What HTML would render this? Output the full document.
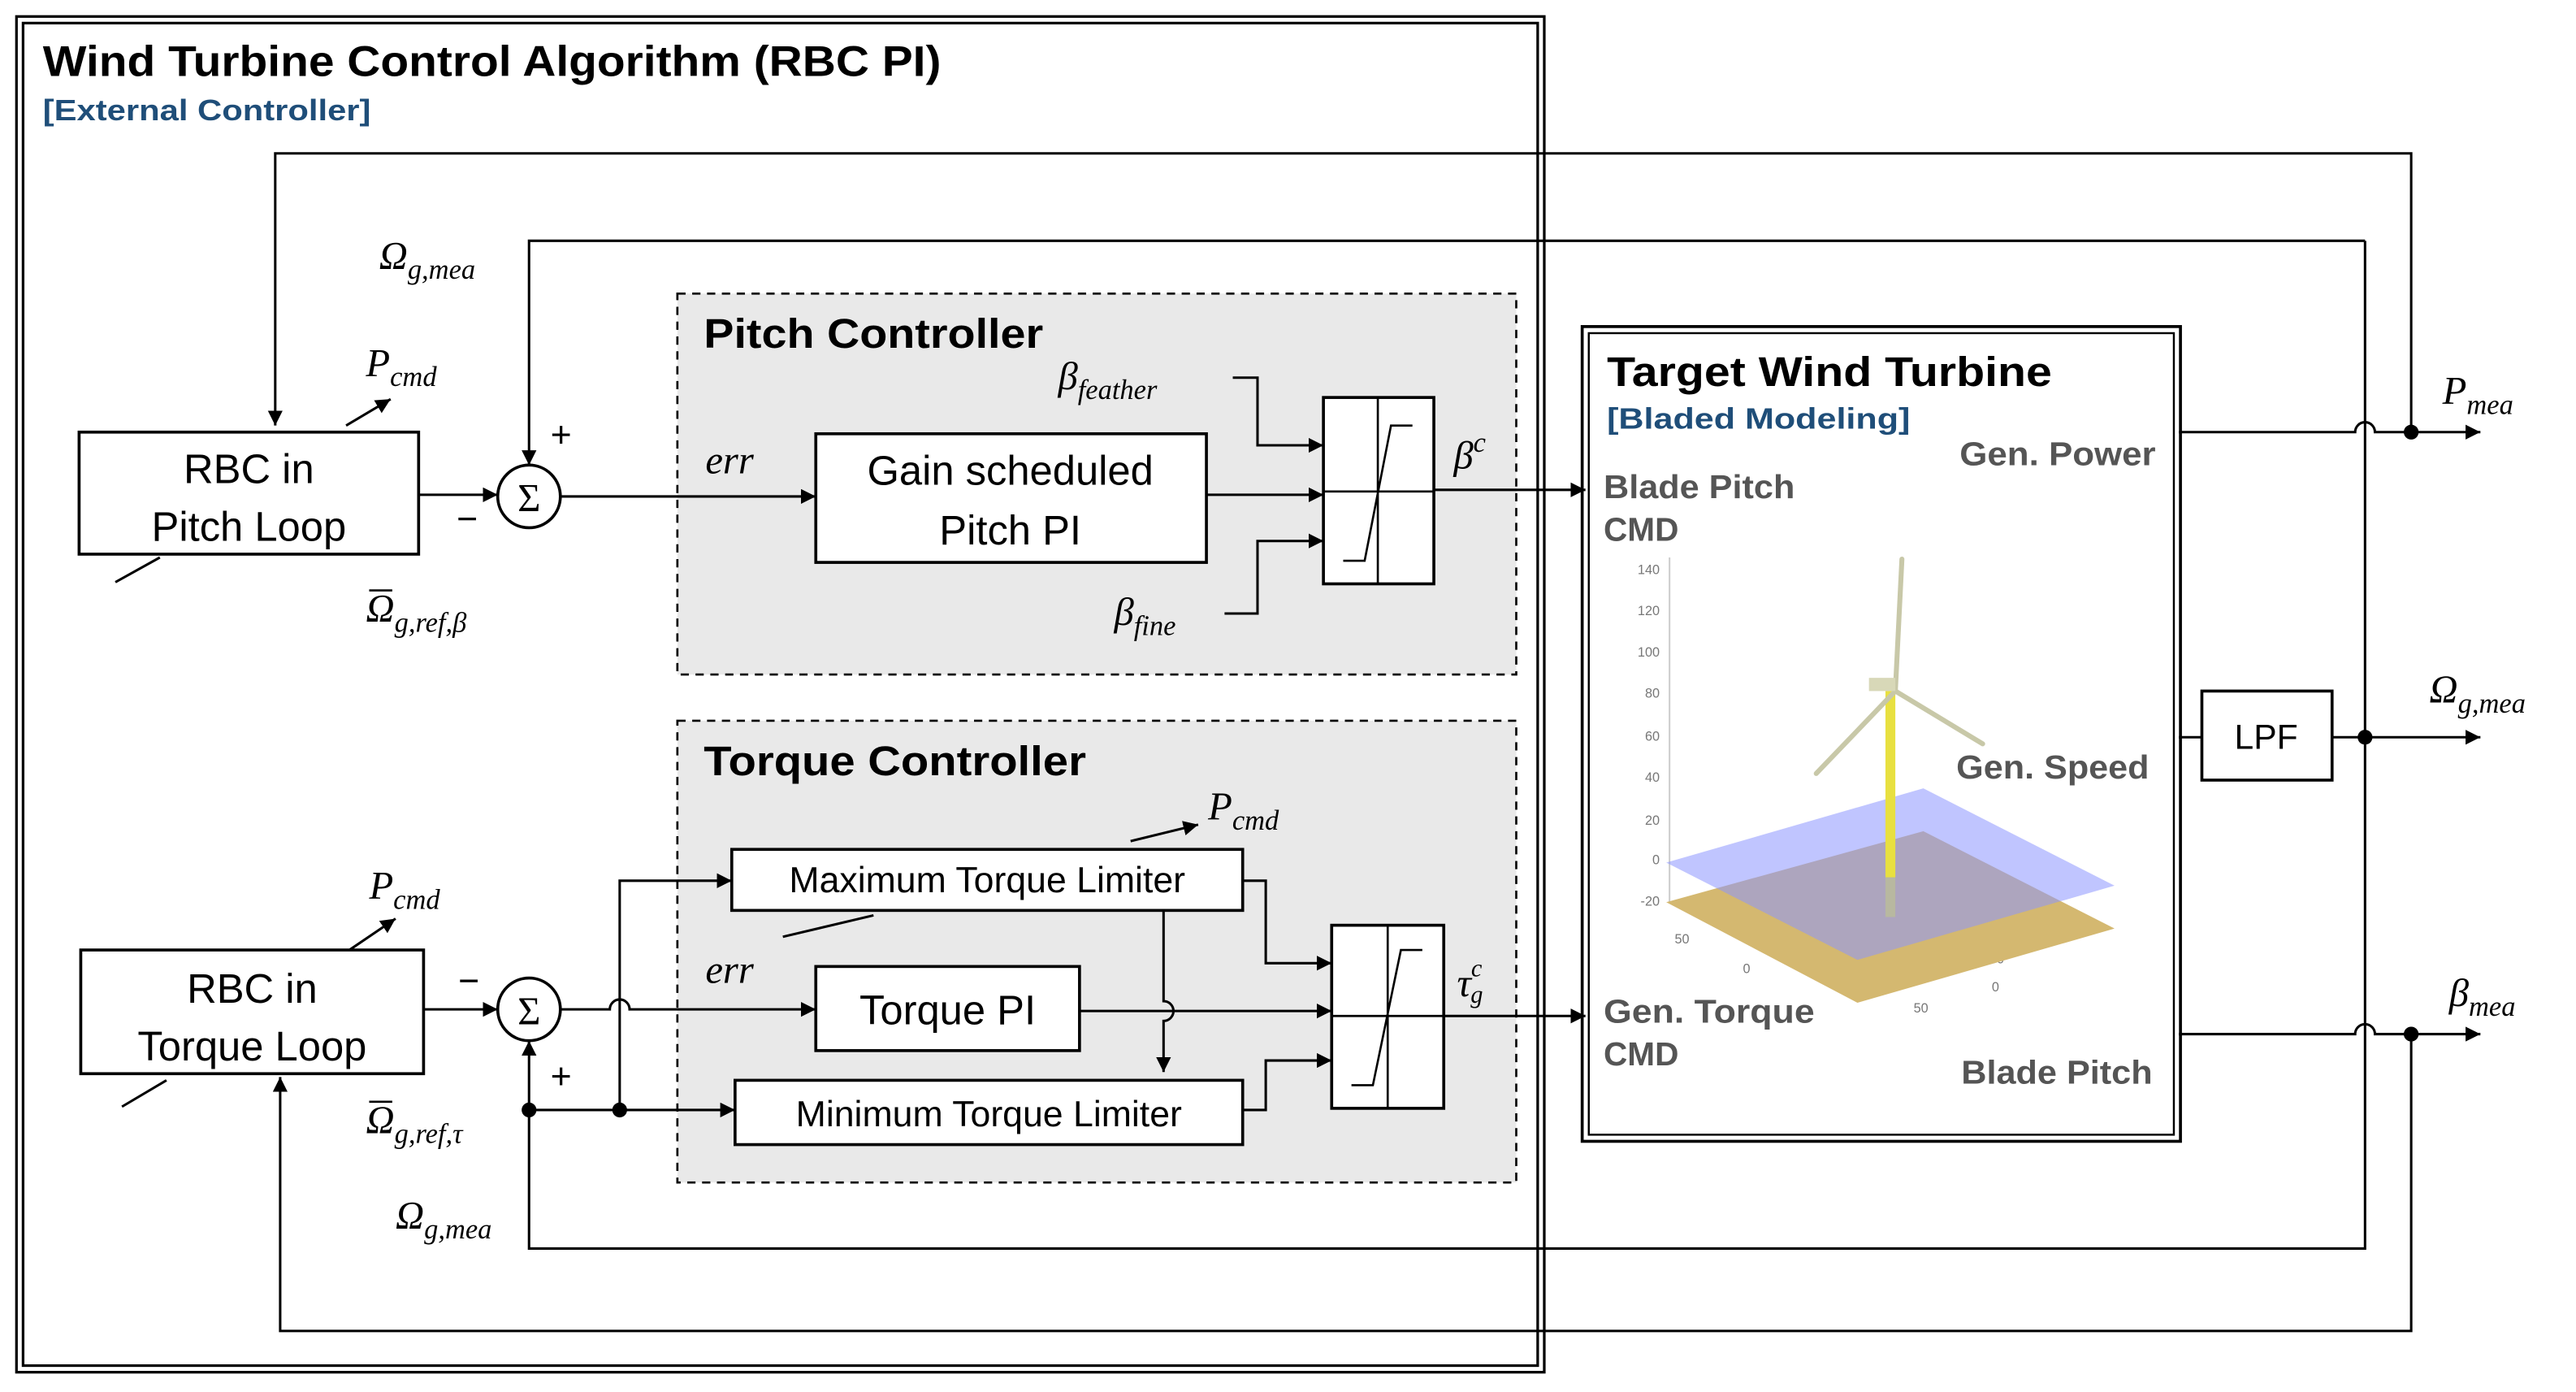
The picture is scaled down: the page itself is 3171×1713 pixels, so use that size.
<!DOCTYPE html>
<html><head><meta charset="utf-8"><style>
html,body{margin:0;padding:0;background:#fff;}
svg{display:block;}
.s{font-family:"Liberation Sans","DejaVu Sans",sans-serif;}
.m{font-family:"Liberation Serif","DejaVu Serif",serif;font-style:italic;}
</style></head><body>
<svg width="3171" height="1713" viewBox="0 0 1563 844" preserveAspectRatio="none" xmlns="http://www.w3.org/2000/svg">
<defs>
<marker id="a" viewBox="0 0 10 10" refX="10" refY="5" markerWidth="9" markerHeight="9" markerUnits="userSpaceOnUse" orient="auto"><path d="M0,0L10,5L0,10z" fill="#000"/></marker>
</defs>
<rect width="1563" height="844" fill="#fff"/>
<g fill="none" stroke="#000" stroke-width="1.6">
<rect x="10" y="10" width="927" height="822"/>
<rect x="14" y="14" width="919" height="814"/>
</g>
<text class="s" x="26" y="46" font-size="26" font-weight="bold" textLength="545" lengthAdjust="spacingAndGlyphs">Wind Turbine Control Algorithm (RBC PI)</text>
<text class="s" x="26" y="73" font-size="18" font-weight="bold" fill="#1f4e79" textLength="199" lengthAdjust="spacingAndGlyphs">[External Controller]</text>

<rect x="411" y="178" width="509" height="231" fill="#e9e9e9" stroke="#000" stroke-width="1.3" stroke-dasharray="5,4"/>
<rect x="411" y="437" width="509" height="280" fill="#e9e9e9" stroke="#000" stroke-width="1.3" stroke-dasharray="5,4"/>
<text class="s" x="427" y="211" font-size="25" font-weight="bold" textLength="206" lengthAdjust="spacingAndGlyphs">Pitch Controller</text>
<text class="s" x="427" y="470" font-size="25" font-weight="bold" textLength="232" lengthAdjust="spacingAndGlyphs">Torque Controller</text>

<g fill="#fff" stroke="#000" stroke-width="1.8">
<rect x="48" y="262" width="206" height="74"/>
<rect x="49" y="576" width="208" height="75"/>
<rect x="495" y="263" width="237" height="78"/>
<rect x="803" y="241" width="67" height="113"/>
<rect x="444" y="515" width="310" height="37"/>
<rect x="495" y="586" width="160" height="51"/>
<rect x="446" y="655" width="308" height="39"/>
<rect x="808" y="561" width="68" height="111"/>
<rect x="1336" y="419" width="79" height="54"/>
<circle cx="321" cy="301" r="19"/>
<circle cx="321" cy="612" r="19"/>
</g>
<g fill="none" stroke="#000" stroke-width="1.8">
<rect x="960" y="198" width="363" height="494"/>
<rect x="964" y="202" width="355" height="486" stroke-width="1.2"/>
</g>
<g fill="none" stroke="#000" stroke-width="1.3">
<path d="M803,298H870M836,241V354M815,340H828L844,258H857"/>
<path d="M808,616H876M842,561V672M820,658H833L850,576H863"/>
</g>

<g class="s" text-anchor="middle">
<text x="151" y="293" font-size="25">RBC in</text>
<text x="151" y="328" font-size="25">Pitch Loop</text>
<text x="153" y="608" font-size="25">RBC in</text>
<text x="153" y="643" font-size="25">Torque Loop</text>
<text x="613" y="294" font-size="25">Gain scheduled</text>
<text x="613" y="330" font-size="25">Pitch PI</text>
<text x="599" y="541" font-size="22">Maximum Torque Limiter</text>
<text x="575" y="621" font-size="25">Torque PI</text>
<text x="600" y="683" font-size="22">Minimum Torque Limiter</text>
<text x="1375" y="454" font-size="21">LPF</text>
</g>
<g font-family="Liberation Serif,serif" font-size="24" text-anchor="middle">
<text x="321" y="310">Σ</text><text x="321" y="621">Σ</text>
</g>

<g fill="none" stroke="#000" stroke-width="1.5">
<path d="M1463,262V93H167V258" marker-end="url(#a)"/>
<path d="M1435,146H321V282" marker-end="url(#a)"/>
<path d="M1435,146V757H321V631" marker-end="url(#a)"/>
<path d="M1463,627V807H170V653" marker-end="url(#a)"/>
<path d="M1322,262H1429A6,6 0 0 1 1441,262H1505" marker-end="url(#a)"/>
<path d="M1322,627H1429A6,6 0 0 1 1441,627H1505" marker-end="url(#a)"/>
<path d="M1322,447H1336"/>
<path d="M1415,447H1505" marker-end="url(#a)"/>
<path d="M254,300H302" marker-end="url(#a)"/>
<path d="M340,301H495" marker-end="url(#a)"/>
<path d="M732,300H803" marker-end="url(#a)"/>
<path d="M748,229H763V270H803" marker-end="url(#a)"/>
<path d="M743,372H763V328H803" marker-end="url(#a)"/>
<path d="M870,297H962" marker-end="url(#a)"/>
<path d="M210,258L237,242" marker-end="url(#a)"/>
<path d="M70,353L97,338"/>
<path d="M257,612H302" marker-end="url(#a)"/>
<path d="M340,612H370A6,6 0 0 1 382,612H495" marker-end="url(#a)"/>
<path d="M321,673H446" marker-end="url(#a)"/>
<path d="M376,673V534H444" marker-end="url(#a)"/>
<path d="M655,613H808" marker-end="url(#a)"/>
<path d="M706,552V607A6,6 0 0 1 706,619V650" marker-end="url(#a)"/>
<path d="M754,534H768V584H808" marker-end="url(#a)"/>
<path d="M754,673H768V643H808" marker-end="url(#a)"/>
<path d="M876,616H962" marker-end="url(#a)"/>
<path d="M212,576L240,557" marker-end="url(#a)"/>
<path d="M74,671L101,655"/>
<path d="M686,510L727,500" marker-end="url(#a)"/>
<path d="M475,568L530,555"/>
</g>
<g fill="#000">
<circle cx="1463" cy="262" r="4.5"/><circle cx="1463" cy="627" r="4.5"/><circle cx="1435" cy="447" r="4.5"/>
<circle cx="321" cy="673" r="4.5"/><circle cx="376" cy="673" r="4.5"/>
</g>

<g class="m" font-size="24">
<text x="222" y="228">P<tspan font-size="17" dy="6">cmd</tspan></text>
<text x="224" y="545">P<tspan font-size="17" dy="6">cmd</tspan></text>
<text x="733" y="497">P<tspan font-size="17" dy="6">cmd</tspan></text>
<text x="230" y="163">Ω<tspan font-size="17" dy="6">g,mea</tspan></text>
<text x="240" y="745">Ω<tspan font-size="17" dy="6">g,mea</tspan></text>
<text x="222" y="377">Ω<tspan font-size="17" dy="6">g,ref,β</tspan></text>
<text x="222" y="687">Ω<tspan font-size="17" dy="6">g,ref,τ</tspan></text>
<text x="428" y="287">err</text>
<text x="428" y="596">err</text>
<text x="642" y="236">β<tspan font-size="17" dy="6">feather</tspan></text>
<text x="676" y="379">β<tspan font-size="17" dy="6">fine</tspan></text>
<text x="882" y="284">β<tspan font-size="17" dy="-10">c</tspan></text>
<text x="884" y="604">τ<tspan font-size="15" dy="-12">c</tspan><tspan font-size="15" dx="-7" dy="16">g</tspan></text>
<text x="1482" y="245">P<tspan font-size="17" dy="6">mea</tspan></text>
<text x="1474" y="426">Ω<tspan font-size="17" dy="6">g,mea</tspan></text>
<text x="1486" y="610">β<tspan font-size="17" dy="6">mea</tspan></text>
</g>
<g stroke="#000" stroke-width="1.3">
<path d="M224,358H238M224,668H238"/>
</g>
<g class="s" font-size="22">
<text x="334" y="271">+</text><text x="277" y="322">−</text>
<text x="278" y="602">−</text><text x="334" y="660">+</text>
</g>

<text class="s" x="975" y="234" font-size="25" font-weight="bold" textLength="270" lengthAdjust="spacingAndGlyphs">Target Wind Turbine</text>
<text class="s" x="975" y="260" font-size="18" font-weight="bold" fill="#1f4e79" textLength="184" lengthAdjust="spacingAndGlyphs">[Bladed Modeling]</text>
<g class="s" font-size="20" font-weight="bold" fill="#555" lengthAdjust="spacingAndGlyphs">
<text x="1189" y="282" textLength="119" lengthAdjust="spacingAndGlyphs">Gen. Power</text>
<text x="973" y="302" textLength="116" lengthAdjust="spacingAndGlyphs">Blade Pitch</text><text x="973" y="328">CMD</text>
<text x="1187" y="472" textLength="117" lengthAdjust="spacingAndGlyphs">Gen. Speed</text>
<text x="973" y="620" textLength="128" lengthAdjust="spacingAndGlyphs">Gen. Torque</text><text x="973" y="646">CMD</text>
<text x="1190" y="657" textLength="116" lengthAdjust="spacingAndGlyphs">Blade Pitch</text>
</g>
<line x1="1013" y1="338" x2="1013" y2="547" stroke="#ccc" stroke-width="1"/>
<g class="s" font-size="8" fill="#777" text-anchor="end">
<text x="1007" y="348">140</text><text x="1007" y="373">120</text><text x="1007" y="398">100</text>
<text x="1007" y="423">80</text><text x="1007" y="449">60</text><text x="1007" y="474">40</text>
<text x="1007" y="500">20</text><text x="1007" y="524">0</text><text x="1007" y="549">-20</text>
<text x="1025" y="572">50</text><text x="1062" y="590">0</text><text x="1216" y="584">-50</text>
<text x="1213" y="601">0</text><text x="1170" y="614">50</text>
</g>
<polygon points="1011,547 1167,504 1283,563 1127,608" fill="#d4b870"/>
<polygon points="1011,523 1167,478 1283,537 1127,582" fill="#8c96ff" fill-opacity="0.55"/>
<rect x="1144" y="419" width="6" height="113" fill="#e8e040"/>
<rect x="1144" y="532" width="6" height="24" fill="#b8b8a0"/>
<g stroke="#c8c8a8" stroke-width="3" stroke-linecap="round">
<line x1="1150" y1="419" x2="1154" y2="339"/>
<line x1="1150" y1="419" x2="1102" y2="469"/>
<line x1="1150" y1="419" x2="1203" y2="451"/>
</g>
<rect x="1134" y="411" width="16" height="8" fill="#d8d8b8"/>
</svg>
</body></html>
